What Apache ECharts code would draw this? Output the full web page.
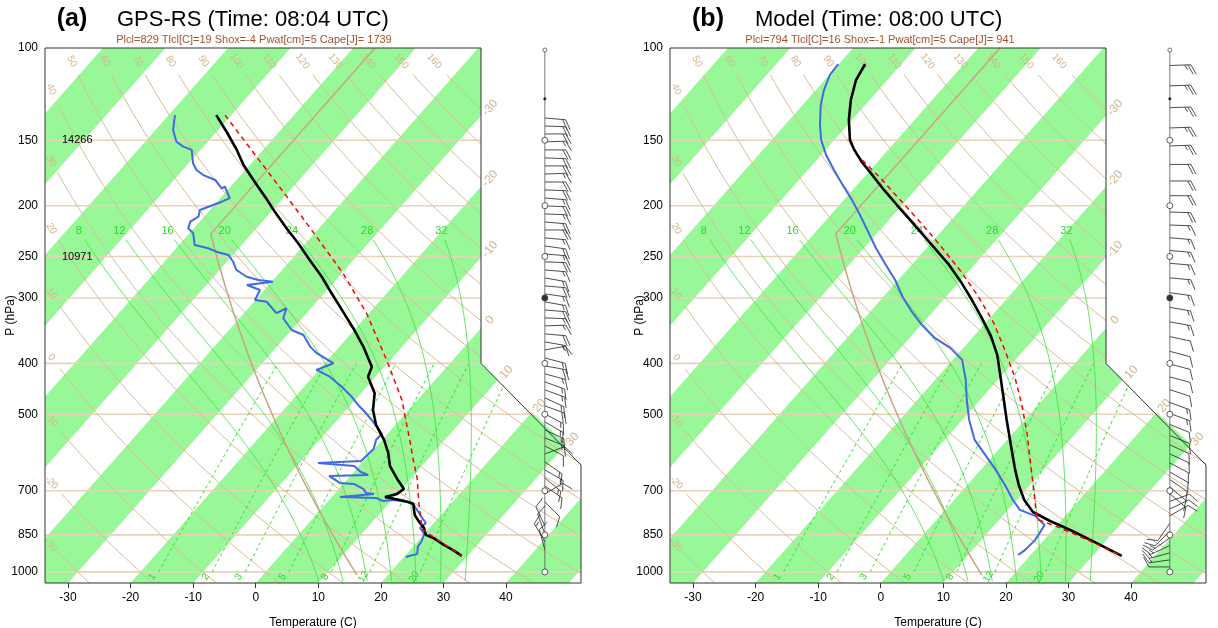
<!DOCTYPE html>
<html>
<head>
<meta charset="utf-8">
<script src="https://cdn.jsdelivr.net/npm/echarts@6/dist/echarts.min.js"></script>
<style>
html, body { margin: 0; padding: 0; background: #fff; }
#chart { width: 1218px; height: 628px; }
</style>
</head>
<body>
<div id="chart"></div>
<script>
// ---- axes / background values ----
var pTicks = [100, 150, 200, 250, 300, 400, 500, 700, 850, 1000];
var tTicks = [-30, -20, -10, 0, 10, 20, 30, 40];
var isobars = [150, 200, 250, 300, 400, 500, 700, 850, 1000];
var greenBands = [-100, -80, -60, -40, -20, 0, 20, 40];   // lower isotherm of each green band
var isothermLabels = [-30, -20, -10, 0, 10, 20, 30];
var dryTheta = [-30, -20, -10, 0, 10, 20, 30, 40, 50, 60, 70, 80, 90, 100, 110, 120, 130, 140, 150, 160, 170, 180];
var dryLabelsLeft = [-30, -20, -10, 0, 10, 20, 30, 40];
var dryLabelsTop = [50, 60, 70, 80, 90, 100, 110, 120, 130, 140, 150, 160];
var moistThetaW = [8, 12, 16, 20, 24, 28, 32];
var mixRatios = [1, 2, 3, 5, 8, 12, 20];

// ---- (a) GPS-RS sounding ----
var gpsTempP = [134.3, 144.5, 156.5, 167.2, 178.6, 192.2, 205.3, 220.8, 235.9, 253.9, 273.3, 293.9, 316.2, 342.7, 371.5, 405.8, 424.0, 456.0, 490.8, 524.2, 559.9, 592.8, 627.6, 664.5, 694.4, 709.8, 719.3, 728.9, 735.3, 741.8, 778.6, 803.0, 824.2, 850, 861.4, 888.3, 912.0, 932.3];
var gpsTemp = [-72.4, -68.4, -64.2, -61.0, -57.3, -53.1, -49.4, -45.2, -41.2, -37.0, -32.7, -28.8, -24.8, -20.4, -16.2, -12.0, -11.2, -7.8, -5.7, -3.1, 0.3, 2.8, 4.9, 7.9, 10.4, 10.0, 8.5, 11.3, 12.9, 14.0, 15.8, 17.5, 19.1, 20.4, 22.0, 24.7, 27.2, 29.1];
var gpsDewP = [134.3, 143.4, 151.0, 154.3, 156.5, 166.0, 171.0, 174.8, 178.6, 185.3, 184.0, 193.5, 196.5, 200.9, 203.8, 209.9, 214.5, 220.8, 225.7, 237.7, 241.1, 244.8, 248.3, 255.8, 265.3, 273.3, 277.2, 279.3, 283.4, 289.7, 302.7, 305.0, 320.8, 313.9, 328.0, 345.3, 353.0, 371.5, 382.4, 399.8, 411.7, 424.0, 443.0, 463.0, 480.1, 495.2, 512.9, 531.2, 545.3, 559.9, 566.6, 582.6, 614.2, 619.6, 627.6, 644.5, 653.0, 655.9, 676.4, 679.4, 694.4, 706.7, 709.8, 719.3, 722.4, 732.1, 728.9, 735.3, 741.8, 764.9, 788.8, 806.5, 824.2, 846.3, 873.0, 895.9, 923.9, 936.4];
var gpsDew = [-79.0, -77.2, -75.0, -73.2, -71.4, -69.3, -67.8, -66.0, -63.4, -61.2, -60.9, -58.5, -59.3, -60.7, -61.6, -60.9, -61.5, -60.9, -59.4, -57.5, -54.9, -53.1, -50.7, -49.0, -47.3, -44.7, -42.4, -39.8, -43.5, -40.7, -40.1, -38.0, -34.8, -33.9, -33.0, -30.0, -27.4, -24.7, -22.7, -18.6, -20.4, -17.3, -14.0, -11.0, -8.8, -6.7, -4.5, -2.4, -0.9, -1.0, -0.7, -0.1, -0.4, -7.0, -0.8, 1.1, 2.7, -3.4, -0.7, 1.7, 3.9, 4.9, 6.3, 1.3, 7.2, 8.7, 10.2, 12.9, 14.0, 15.7, 17.4, 18.7, 18.5, 20.0, 20.6, 20.8, 21.7, 20.3];
var gpsParcelP = [134.3, 161.2, 192.2, 229.2, 269.2, 320.8, 399.8, 469.7, 559.9, 611.5, 664.5, 735.3, 829, 880, 932.3];
var gpsParcelT = [-71.0, -60.1, -49.6, -39.2, -29.8, -20.4, -9.9, -2.5, 4.4, 7.8, 11.1, 14.6, 19.0, 24.1, 29.1];
var gpsHeightP = [150, 250];
var gpsHeightTxt = ['14266', '10971'];
var gpsWindP = [136.0, 140.9, 145.9, 151.1, 156.5, 162.1, 167.9, 174.0, 180.2, 186.6, 193.3, 200.2, 207.4, 214.8, 222.5, 230.4, 238.7, 247.2, 256.0, 265.2, 274.7, 284.5, 294.7, 305.2, 316.2, 327.5, 339.2, 351.3, 363.9, 376.9, 390.4, 404.4, 418.8, 433.8, 449.3, 465.4, 482.1, 499.3, 517.2, 535.7, 554.9, 574.7, 595.3, 616.6, 638.6, 661.5, 685.2, 709.7, 735.1, 761.4, 788.6, 816.8, 846.0, 876.2, 907.6];
var gpsWindDir = [95, 92, 90, 88, 90, 92, 90, 88, 90, 92, 95, 92, 92, 95, 90, 95, 98, 95, 92, 95, 100, 95, 98, 100, 95, 92, 88, 95, 100, 80, 105, 100, 105, 110, 110, 115, 110, 118, 120, 115, 112, 118, 70, 125, 120, 130, 125, 60, 135, 0, 0, 335, 340, 330, 345];
var gpsWindSpd = [20, 20, 20, 15, 20, 20, 20, 15, 20, 20, 15, 20, 15, 20, 20, 15, 20, 15, 20, 15, 15, 20, 15, 15, 20, 15, 15, 20, 15, 15, 15, 20, 15, 15, 15, 15, 20, 15, 15, 15, 15, 10, 10, 15, 15, 15, 10, 10, 10, 0, 0, 10, 10, 15, 10];

// ---- (b) model sounding ----
var modTempP = [107.3, 115.1, 125.7, 137.2, 149.8, 156.5, 165.0, 174.7, 186.6, 199.4, 212.9, 227.4, 242.9, 259.5, 279.6, 302.7, 327.5, 354.5, 385.3, 420.7, 459.5, 512.9, 572.5, 638.6, 682.3, 728.9, 768.5, 799.6, 831.8, 868.8, 903.8, 932.3];
var modTemp = [-75.8, -75.0, -73.0, -70.5, -67.5, -65.4, -62.5, -59.0, -55.0, -50.8, -46.6, -42.4, -38.2, -34.0, -29.7, -25.4, -21.3, -17.3, -13.6, -10.3, -7.0, -2.9, 1.3, 5.5, 8.2, 11.2, 14.3, 18.3, 22.8, 27.4, 31.5, 34.7];
var modDewP = [107.3, 112.6, 120.3, 128.5, 140.3, 149.8, 160.0, 171.0, 182.6, 195.0, 208.3, 224.4, 240.8, 259.5, 277.2, 298.7, 319.0, 337.7, 357.6, 373.6, 393.9, 430.1, 469.7, 512.9, 559.9, 597.9, 638.6, 682.3, 728.9, 761.4, 781.7, 813.6, 868.8, 907.6, 928.3];
var modDew = [-80.1, -79.9, -78.7, -77.1, -74.4, -72.1, -69.2, -65.8, -62.3, -58.7, -55.3, -51.6, -48.1, -44.1, -40.5, -36.9, -33.3, -29.9, -26.0, -22.1, -18.5, -15.1, -12.1, -8.9, -5.2, -1.4, 2.4, 6.0, 9.4, 11.9, 15.2, 18.0, 18.6, 18.4, 18.0];
var modParcelP = [163.6, 177.0, 195.0, 214.8, 237.7, 265.2, 297.4, 333.3, 376.9, 426.3, 480.1, 547.7, 625.1, 697.5, 794, 824.2, 873.0, 932.3];
var modParcelT = [-62.7, -57.3, -51.0, -44.7, -38.3, -31.6, -25.0, -18.9, -13.1, -7.5, -2.6, 2.5, 7.3, 11.3, 16.0, 20.9, 27.5, 34.7];
var modWindP = [108.0, 118.1, 130.0, 142.1, 153.8, 166.8, 179.4, 191.4, 205.6, 217.7, 230.2, 243.5, 257.6, 274.7, 293.1, 312.6, 333.3, 355.6, 379.3, 401.0, 424.4, 449.0, 475.0, 498.4, 523.2, 549.1, 571.8, 595.3, 619.4, 644.5, 666.3, 688.3, 709.7, 733.6, 758.1, 781.7, 808.0, 835.7, 861.4, 890.3, 919.9, 948.6, 978.4];
var modWindDir = [88, 88, 88, 88, 88, 90, 90, 90, 92, 92, 95, 95, 95, 95, 98, 100, 100, 102, 105, 105, 105, 108, 110, 110, 112, 112, 115, 115, 118, 120, 125, 130, 130, 70, 65, 60, 215, 225, 235, 245, 255, 262, 270];
var modWindSpd = [25, 25, 25, 25, 25, 20, 20, 20, 20, 15, 15, 15, 15, 15, 15, 15, 15, 10, 10, 10, 10, 10, 15, 15, 10, 10, 10, 10, 10, 10, 10, 10, 10, 10, 10, 10, 10, 10, 15, 15, 15, 15, 10];

// ---- skew-T geometry ----
var K = 74;                       // isotherm shift, deg C per decade of pressure
var LB = Math.log10(1050);        // bottom of the diagram
var XMIN = -33.68, XMAX = 51.98, XCUT = 36.0;
var LCUT1 = Math.log10(400), LCUT2 = Math.log10(625);
var BARB_X = 46.2;
var FONT = 'Liberation Sans, Arial, Helvetica, sans-serif';

function sx(t, p) { return t + K * (LB - Math.log10(p)); }
function pt(t, p) { return [sx(t, p), Math.log10(p)]; }
function dryT(th, p) { return (th + 273.15) * Math.pow(p / 1000, 0.286) - 273.15; }
function tmr(w, p) {   // temperature on a mixing ratio line (NCL formula)
    var x = Math.log10(w * p / (622 + w));
    return Math.pow(10, 0.0498646455 * x + 2.4082965) - 7.07475 + 38.9114 * Math.pow(Math.pow(10, 0.0915 * x) - 1.2035, 2) - 273.15;
}
function moistRate(T, p) {
    var es = 6.112 * Math.exp(17.67 * (T - 273.15) / (T - 29.65));
    var rs = 0.622 * es / (p - es);
    return (287.04 * T + 2.501e6 * rs) / (1005.7 + 2.501e6 * 2.501e6 * rs * 0.622 / (287.04 * T * T));
}
function moistLine(tw, pTop) {
    var run = function (h, pEnd) {
        var T = tw + 273.15, lp = Math.log(1000), out = [], n = 0;
        while ((h < 0 && Math.exp(lp) > pEnd) || (h > 0 && Math.exp(lp) < pEnd)) {
            var p = Math.exp(lp);
            var k1 = moistRate(T, p);
            var k2 = moistRate(T + 0.5 * h * k1, Math.exp(lp + 0.5 * h));
            T += h * k2; lp += h; n++;
            if (n % 4 === 0) out.push([T - 273.15, Math.exp(lp)]);
        }
        return out;
    };
    var up = run(-0.005, pTop).reverse();
    var down = run(0.005, 1050);
    return up.concat([[tw, 1000]], down);
}
function clipSeg(a, b) {
    var t0 = 0, t1 = 1, dx = b[0] - a[0], dy = b[1] - a[1];
    var P = [-dx, dx, -dy, dy], Q = [a[0] - XMIN, XMAX - a[0], a[1] - 2, LB - a[1]];
    for (var i = 0; i < 4; i++) {
        if (P[i] === 0) { if (Q[i] < 0) return null; continue; }
        var r = Q[i] / P[i];
        if (P[i] < 0) { if (r > t1) return null; if (r > t0) t0 = r; }
        else { if (r < t0) return null; if (r < t1) t1 = r; }
    }
    return [[a[0] + t0 * dx, a[1] + t0 * dy], [a[0] + t1 * dx, a[1] + t1 * dy]];
}
function clipLine(pts) {
    var out = [], cur = null;
    for (var i = 0; i < pts.length - 1; i++) {
        var s = clipSeg(pts[i], pts[i + 1]);
        if (!s) { cur = null; continue; }
        if (!cur) { cur = [s[0]]; out.push(cur); }
        cur.push(s[1]);
        if (s[1][0] !== pts[i + 1][0] || s[1][1] !== pts[i + 1][1]) cur = null;
    }
    return out;
}
function clipX(poly, lim, keepGreater) {
    var out = [];
    for (var i = 0; i < poly.length; i++) {
        var A = poly[i], B = poly[(i + 1) % poly.length];
        var ina = keepGreater ? A[0] >= lim : A[0] <= lim;
        var inb = keepGreater ? B[0] >= lim : B[0] <= lim;
        if (ina) out.push(A);
        if (ina !== inb) { var t = (lim - A[0]) / (B[0] - A[0]); out.push([lim, A[1] + t * (B[1] - A[1])]); }
    }
    return out;
}
var pressGrid = [];
for (var g = 0; g <= 120; g++) pressGrid.push(Math.pow(10, 2 + (LB - 2) * g / 120));

// background shapes (same for both panels)
var bandShapes = greenBands.map(function (a) {
    var S = K * (LB - 2);
    var poly = [[a, LB], [a + 10, LB], [a + 10 + S, 2], [a + S, 2]];
    return { pts: clipX(clipX(poly, XMIN, true), XMAX, false), fill: '#98f898' };
});
var lineShapes = [];
isobars.forEach(function (p) {
    lineShapes.push({ pts: [[XMIN, Math.log10(p)], [XMAX, Math.log10(p)]], stroke: '#e8d2b8', width: 1.6 });
});
dryTheta.forEach(function (th) {
    var pts = [];
    pressGrid.forEach(function (p) {
        var q = pt(dryT(th, p), p);
        if (p >= 112 && q[0] >= XMIN + 2) pts.push(q);
    });
    clipLine(pts).forEach(function (seg) { lineShapes.push({ pts: seg, stroke: '#d8bc98', width: 1 }); });
});
moistThetaW.forEach(function (tw) {
    var pts = moistLine(tw, 231).map(function (d) { return pt(d[0], d[1]); });
    clipLine(pts).forEach(function (seg) { lineShapes.push({ pts: seg, stroke: '#3de03d', width: 0.8 }); });
});
mixRatios.forEach(function (w) {
    var pts = [];
    for (var p = 1000; p >= 400; p -= 20) pts.push(pt(tmr(w, p), p));
    clipLine(pts).forEach(function (seg) { lineShapes.push({ pts: seg, stroke: '#2ee02e', width: 1, dash: [3, 3] }); });
});
(function () {   // ICAO standard atmosphere
    var pts = [];
    for (var p = 1013.25; p > 226.32; p -= 25) pts.push(pt(288.15 * Math.pow(p / 1013.25, 0.190263) - 273.15, p));
    pts.push(pt(-56.5, 226.32));
    pts.push(pt(-56.5, 100));
    clipLine(pts).forEach(function (seg) { lineShapes.push({ pts: seg, stroke: '#c9a47e', width: 1.5 }); });
})();
var maskShape = [{ pts: [[XCUT, 2], [XMAX + 1, 2], [XMAX + 1, LCUT2], [XCUT, LCUT1]], fill: '#ffffff' }];
var outlineShape = [{ pts: [[XMIN, 2], [XCUT, 2], [XCUT, LCUT1], [XMAX, LCUT2], [XMAX, LB], [XMIN, LB], [XMIN, 2]], stroke: '#333', width: 1 }];

// label items: anchor, direction point, pixel offset
var bgLabels = [];
dryLabelsTop.forEach(function (th) {
    bgLabels.push({ at: pt(dryT(th, 106), 106), dir: pt(dryT(th, 116), 116), text: String(th), color: '#d2b48c', size: 10, dx: 0, dy: 0 });
});
dryLabelsLeft.forEach(function (th) {
    var lo = 100, hi = 1050;
    for (var i = 0; i < 40; i++) { var m = Math.sqrt(lo * hi); if (sx(dryT(th, m), m) < XMIN + 1) lo = m; else hi = m; }
    bgLabels.push({ at: pt(dryT(th, hi), hi), dir: pt(dryT(th, hi * 1.05), hi * 1.05), text: String(th), color: '#d2b48c', size: 10, dx: 0, dy: 0 });
});
moistThetaW.forEach(function (tw) {
    var top = moistLine(tw, 223)[0];
    bgLabels.push({ at: pt(top[0], top[1]), dir: null, text: String(tw), color: '#22dd22', size: 11, dx: 0, dy: 0 });
});
mixRatios.forEach(function (w) {
    bgLabels.push({ at: pt(tmr(w, 1000), 1022), dir: pt(tmr(w, 960), 960), text: String(w), color: '#22dd22', size: 10, dx: -2, dy: 0 });
});
isothermLabels.forEach(function (t) {
    var L = LB - (XCUT - t) / K;
    if (L > LCUT1) {
        var m = (XMAX - XCUT) / (LCUT2 - LCUT1);
        L = (t + K * LB - XCUT + m * LCUT1) / (K + m);
    }
    bgLabels.push({ at: [t + K * (LB - L), L], dir: [t + K * (LB - L + 0.05), L - 0.05], text: String(t), color: '#d2b48c', size: 12, dx: 9, dy: -8 });
});

function shapeSeries(list, gi, z) {
    return {
        type: 'custom', xAxisIndex: gi, yAxisIndex: gi, z: z, silent: true, clip: false,
        data: list.map(function (s, i) { return [0, 2.5, i]; }),
        encode: { x: 0, y: 1 },
        renderItem: function (params, api) {
            var s = list[params.dataIndex];
            var pts = s.pts.map(function (q) { return api.coord(q); });
            if (s.fill) return { type: 'polygon', shape: { points: pts }, style: { fill: s.fill } };
            return { type: 'polyline', shape: { points: pts }, style: { stroke: s.stroke, lineWidth: s.width, lineDash: s.dash || null, fill: null } };
        }
    };
}
function labelSeries(list, gi, z) {
    return {
        type: 'custom', xAxisIndex: gi, yAxisIndex: gi, z: z, silent: true, clip: false,
        data: list.map(function (s, i) { return [0, 2.5, i]; }),
        encode: { x: 0, y: 1 },
        renderItem: function (params, api) {
            var s = list[params.dataIndex];
            var a = api.coord(s.at), rot = 0;
            if (s.dir) {
                var b = api.coord(s.dir);
                rot = -Math.atan2(b[1] - a[1], b[0] - a[0]);
                if (rot < -Math.PI / 2) rot += Math.PI;
                if (rot > Math.PI / 2) rot -= Math.PI;
            }
            return {
                type: 'text', x: a[0] + s.dx, y: a[1] + s.dy, rotation: rot,
                style: { text: s.text, fill: s.color, font: s.size + 'px ' + FONT, align: s.align || 'center', verticalAlign: 'middle' }
            };
        }
    };
}
function barbSeries(windP, windDir, windSpd, gi) {
    return {
        type: 'custom', xAxisIndex: gi, yAxisIndex: gi, z: 9, silent: true, clip: false,
        data: windP.map(function (p, i) { return [BARB_X, Math.log10(p), i]; }),
        encode: { x: 0, y: 1 },
        renderItem: function (params, api) {
            var i = params.dataIndex, spd = windSpd[i];
            if (!spd) return null;
            var base = api.coord([BARB_X, Math.log10(windP[i])]);
            var d = windDir[i] * Math.PI / 180, vx = Math.sin(d), vy = -Math.cos(d);
            var tip = [base[0] + vx * 21, base[1] + vy * 21];
            var a = 62 * Math.PI / 180;
            var fx = vx * Math.cos(a) - vy * Math.sin(a), fy = vx * Math.sin(a) + vy * Math.cos(a);
            var st = { stroke: '#222', lineWidth: 0.8 };
            var kids = [{ type: 'line', shape: { x1: base[0], y1: base[1], x2: tip[0], y2: tip[1] }, style: st }];
            var pos = 0, n10 = Math.floor(spd / 10);
            for (var k = 0; k < n10; k++) {
                var s0 = [tip[0] - vx * pos, tip[1] - vy * pos];
                kids.push({ type: 'line', shape: { x1: s0[0], y1: s0[1], x2: s0[0] + fx * 11, y2: s0[1] + fy * 11 }, style: st });
                pos += 3;
            }
            if (spd % 10 >= 5) {
                if (pos === 0) pos = 3;
                var s1 = [tip[0] - vx * pos, tip[1] - vy * pos];
                kids.push({ type: 'line', shape: { x1: s1[0], y1: s1[1], x2: s1[0] + fx * 5.5, y2: s1[1] + fy * 5.5 }, style: st });
            }
            return { type: 'group', children: kids };
        }
    };
}
function columnSeries(gi) {
    return {
        type: 'custom', xAxisIndex: gi, yAxisIndex: gi, z: 10, silent: true, clip: false,
        data: isobars.map(function (p, i) { return [BARB_X, Math.log10(p), i]; }),
        encode: { x: 0, y: 1 },
        renderItem: function (params, api) {
            var c = api.coord([BARB_X, Math.log10(isobars[params.dataIndex])]);
            var kids = [{ type: 'circle', shape: { cx: c[0], cy: c[1], r: 3 }, style: { fill: isobars[params.dataIndex] === 300 ? '#333' : '#fff', stroke: '#333', lineWidth: 0.8 } }];
            if (params.dataIndex === 0) {
                var t = api.coord([BARB_X, 2]), b = api.coord([BARB_X, 3]), d = api.coord([BARB_X, Math.log10(125)]);
                kids.unshift({ type: 'line', shape: { x1: t[0], y1: t[1], x2: b[0], y2: b[1] }, style: { stroke: '#555', lineWidth: 0.8 } });
                kids.push({ type: 'circle', shape: { cx: d[0], cy: d[1], r: 1.5 }, style: { fill: '#222' } });
                kids.push({ type: 'circle', shape: { cx: t[0], cy: t[1] + 2, r: 2 }, style: { fill: '#fff', stroke: '#555', lineWidth: 0.8 } });
            }
            return { type: 'group', children: kids };
        }
    };
}
function profile(ps, ts) {
    return ps.map(function (p, i) { return pt(ts[i], p); });
}
function lineSeries(data, gi, color, width, dash, z) {
    return {
        type: 'line', xAxisIndex: gi, yAxisIndex: gi, data: data, showSymbol: false, z: z, silent: true,
        lineStyle: { color: color, width: width, type: dash ? [5, 4] : 'solid' }
    };
}
function panelSeries(gi, snd) {
    return [
        shapeSeries(bandShapes, gi, 1),
        shapeSeries(lineShapes, gi, 2),
        labelSeries(bgLabels.filter(function (l) { return l.size !== 12; }), gi, 3),
        shapeSeries(maskShape, gi, 5),
        shapeSeries(outlineShape, gi, 6),
        labelSeries(bgLabels.filter(function (l) { return l.size === 12; }), gi, 6),
        lineSeries(profile(snd.dp, snd.dt), gi, '#4169e1', 2, false, 7),
        lineSeries(profile(snd.tp, snd.tt), gi, '#000000', 2.6, false, 7),
        lineSeries(profile(snd.pp, snd.pt), gi, '#ff0000', 1.5, true, 8),
        barbSeries(snd.wp, snd.wd, snd.ws, gi),
        columnSeries(gi)
    ];
}

var grids = [
    { left: 45, top: 48, width: 536, height: 535, outerBoundsMode: 'none', containLabel: false },
    { left: 670, top: 48, width: 536, height: 535, outerBoundsMode: 'none', containLabel: false }
];
var yNameGap = [28, 24];
var xAxes = [0, 1].map(function (i) {
    return {
        gridIndex: i, type: 'value', min: XMIN, max: XMAX,
        name: 'Temperature (C)', nameLocation: 'middle', nameGap: 34, nameMoveOverlap: false,
        nameTextStyle: { fontSize: 12, color: '#000', fontFamily: FONT },
        axisLine: { show: false }, splitLine: { show: false },
        axisTick: { show: true, length: 5, customValues: tTicks, lineStyle: { color: '#333' } },
        axisLabel: { customValues: tTicks, fontSize: 12, color: '#000', margin: 9, fontFamily: FONT }
    };
});
var yAxes = [0, 1].map(function (i) {
    return {
        gridIndex: i, type: 'value', min: 2, max: LB, inverse: true,
        name: 'P (hPa)', nameLocation: 'middle', nameGap: yNameGap[i], nameRotate: 90, nameMoveOverlap: false,
        nameTextStyle: { fontSize: 12, color: '#000', fontFamily: FONT },
        axisLine: { show: false }, splitLine: { show: false }, axisTick: { show: false },
        axisLabel: {
            customValues: pTicks.map(function (p) { return Math.log10(p); }),
            formatter: function (v) { return String(Math.round(Math.pow(10, v))); },
            fontSize: 12, color: '#000', margin: 7, fontFamily: FONT
        }
    };
});

var series = panelSeries(0, {
    tp: gpsTempP, tt: gpsTemp, dp: gpsDewP, dt: gpsDew, pp: gpsParcelP, pt: gpsParcelT,
    wp: gpsWindP, wd: gpsWindDir, ws: gpsWindSpd
}).concat(panelSeries(1, {
    tp: modTempP, tt: modTemp, dp: modDewP, dt: modDew, pp: modParcelP, pt: modParcelT,
    wp: modWindP, wd: modWindDir, ws: modWindSpd
}));
series.push(labelSeries(gpsHeightP.map(function (p, i) {
    return { at: [XMIN, Math.log10(p)], dir: null, text: gpsHeightTxt[i], color: '#000', size: 11, dx: 17, dy: 0, align: 'left' };
}), 0, 4));

var titles = [
    { x: 72, y: 19, text: '(a)', font: 'bold 25px ' + FONT, fill: '#000' },
    { x: 117, y: 20, text: 'GPS-RS (Time: 08:04 UTC)', font: '22px ' + FONT, fill: '#000', align: 'left' },
    { x: 254, y: 40, text: 'Plcl=829 Tlcl[C]=19 Shox=-4 Pwat[cm]=5 Cape[J]= 1739', font: '11px ' + FONT, fill: '#a5522d' },
    { x: 708, y: 19, text: '(b)', font: 'bold 25px ' + FONT, fill: '#000' },
    { x: 755, y: 20, text: 'Model (Time: 08:00 UTC)', font: '22px ' + FONT, fill: '#000', align: 'left' },
    { x: 880, y: 40, text: 'Plcl=794 Tlcl[C]=16 Shox=-1 Pwat[cm]=5 Cape[J]= 941', font: '11px ' + FONT, fill: '#a5522d' }
];

var chart = echarts.init(document.getElementById('chart'));
chart.setOption({
    animation: false,
    backgroundColor: '#fff',
    grid: grids,
    xAxis: xAxes,
    yAxis: yAxes,
    series: series,
    graphic: titles.map(function (t) {
        return { type: 'text', x: t.x, y: t.y, silent: true, style: { text: t.text, font: t.font, fill: t.fill, align: t.align || 'center', verticalAlign: 'middle' } };
    })
});
</script>
</body>
</html>
